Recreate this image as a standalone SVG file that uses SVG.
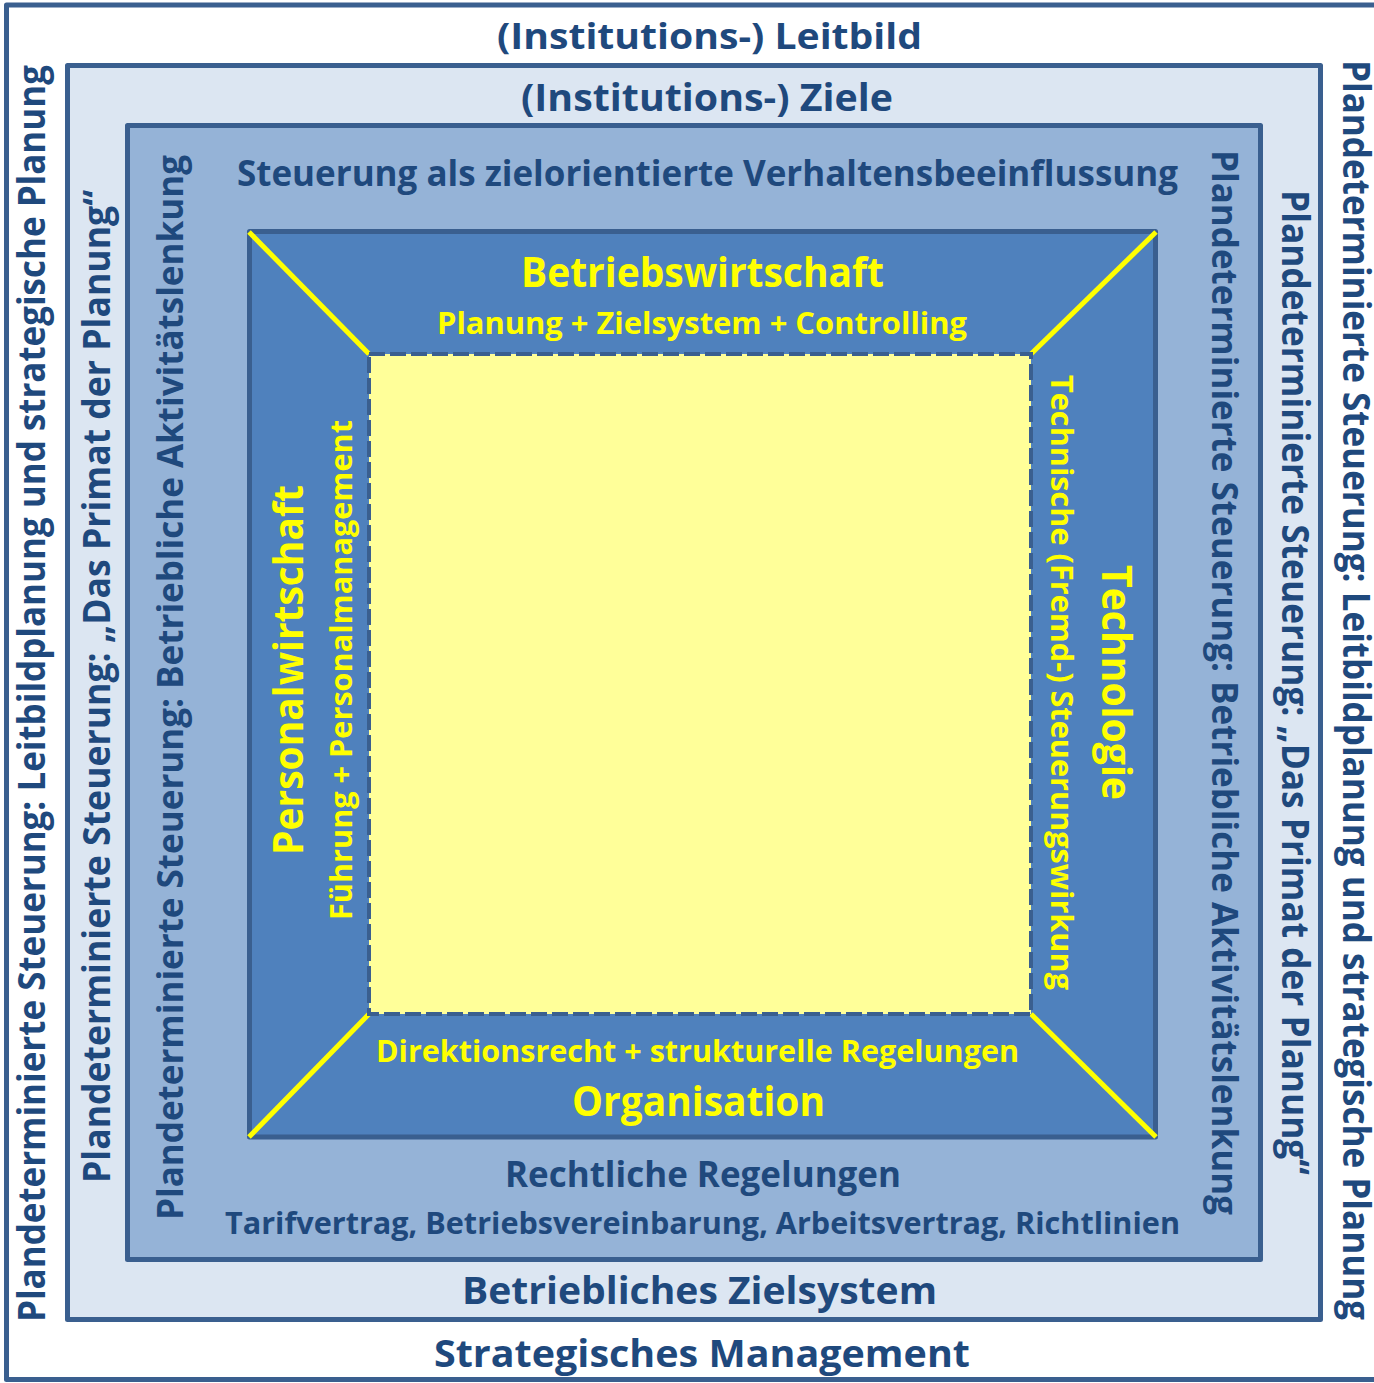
<svg xmlns="http://www.w3.org/2000/svg" width="1374" height="1383" viewBox="0 0 1374 1383">
<style>
.frame{stroke:#3A5F8F;stroke-width:5;stroke-linejoin:round}
.t{font-family:"Open Sans","Noto Sans","Liberation Sans",sans-serif;font-weight:bold;fill:#1F497D;text-anchor:middle}
.y{fill:#FFFF00}
.conn{stroke:#FFFF00;stroke-width:5;stroke-linecap:butt}
</style>
<rect width="1374" height="1383" fill="#FFFFFF"/>
<g id="level1">
<rect class="frame" x="6.5" y="5" width="1372" height="1374.5" fill="#FFFFFF"/>
<text class="t" x="709.5" y="49" font-size="36" textLength="425" lengthAdjust="spacingAndGlyphs">(Institutions-) Leitbild</text>
<text class="t" x="702" y="1367" font-size="37" textLength="536" lengthAdjust="spacingAndGlyphs">Strategisches Management</text>
<text class="t" font-size="38" textLength="1257" lengthAdjust="spacingAndGlyphs" transform="translate(45,693.5) rotate(-90)">Plandeterminierte Steuerung: Leitbildplanung und strategische Planung</text>
<text class="t" font-size="38" textLength="1260" lengthAdjust="spacingAndGlyphs" transform="translate(1343,690) rotate(90)">Plandeterminierte Steuerung: Leitbildplanung und strategische Planung</text>
</g>
<g id="level2">
<rect class="frame" x="67.5" y="65.5" width="1253" height="1254" fill="#DCE6F2"/>
<text class="t" x="707" y="111" font-size="37" textLength="372" lengthAdjust="spacingAndGlyphs">(Institutions-) Ziele</text>
<text class="t" x="699.5" y="1304" font-size="37" textLength="475" lengthAdjust="spacingAndGlyphs">Betriebliches Zielsystem</text>
<text class="t" font-size="38" textLength="993" lengthAdjust="spacingAndGlyphs" transform="translate(110,686.5) rotate(-90)">Plandeterminierte Steuerung: „Das Primat der Planung“</text>
<text class="t" font-size="38" textLength="985" lengthAdjust="spacingAndGlyphs" transform="translate(1282,682.5) rotate(90)">Plandeterminierte Steuerung: „Das Primat der Planung“</text>
</g>
<g id="level3">
<rect class="frame" x="127.5" y="125.5" width="1133" height="1134" fill="#95B3D7"/>
<text class="t" x="707.5" y="186" font-size="36" textLength="941" lengthAdjust="spacingAndGlyphs">Steuerung als zielorientierte Verhaltensbeeinflussung</text>
<text class="t" x="703" y="1187" font-size="36" textLength="396" lengthAdjust="spacingAndGlyphs">Rechtliche Regelungen</text>
<text class="t" x="702.5" y="1234" font-size="30" textLength="955" lengthAdjust="spacingAndGlyphs">Tarifvertrag, Betriebsvereinbarung, Arbeitsvertrag, Richtlinien</text>
<text class="t" font-size="36" textLength="1065" lengthAdjust="spacingAndGlyphs" transform="translate(183,687.5) rotate(-90)">Plandeterminierte Steuerung: Betriebliche Aktivitätslenkung</text>
<text class="t" font-size="36" textLength="1065" lengthAdjust="spacingAndGlyphs" transform="translate(1212,682.5) rotate(90)">Plandeterminierte Steuerung: Betriebliche Aktivitätslenkung</text>
</g>
<g id="level4">
<rect class="frame" x="249.5" y="231.5" width="906" height="905.5" fill="#4F81BD"/>
</g>
<g id="connectors">
<line class="conn" x1="249" y1="232" x2="369" y2="354"/>
<line class="conn" x1="1156" y1="232" x2="1031" y2="354"/>
<line class="conn" x1="249" y1="1137" x2="369" y2="1014"/>
<line class="conn" x1="1156" y1="1137" x2="1031" y2="1014"/>
</g>
<g id="core">
<rect x="369" y="354" width="662" height="660" fill="#FFFF99" stroke="#3A5F8F" stroke-width="4" stroke-dasharray="16 5"/>
</g>
<g id="betriebswirtschaft">
<text class="t y" x="702.5" y="287" font-size="41" textLength="363" lengthAdjust="spacingAndGlyphs">Betriebswirtschaft</text>
<text class="t y" x="702" y="334" font-size="31" textLength="530" lengthAdjust="spacingAndGlyphs">Planung + Zielsystem + Controlling</text>
</g>
<g id="organisation">
<text class="t y" x="697.5" y="1062" font-size="31" textLength="643" lengthAdjust="spacingAndGlyphs">Direktionsrecht + strukturelle Regelungen</text>
<text class="t y" x="698.5" y="1116" font-size="41" textLength="253" lengthAdjust="spacingAndGlyphs">Organisation</text>
</g>
<g id="personalwirtschaft">
<text class="t y" font-size="41" textLength="370" lengthAdjust="spacingAndGlyphs" transform="translate(303,670) rotate(-90)">Personalwirtschaft</text>
<text class="t y" font-size="30" textLength="500" lengthAdjust="spacingAndGlyphs" transform="translate(352,670) rotate(-90)">Führung + Personalmanagement</text>
</g>
<g id="technologie">
<text class="t y" font-size="41" textLength="235" lengthAdjust="spacingAndGlyphs" transform="translate(1102,682.5) rotate(90)">Technologie</text>
<text class="t y" font-size="30" textLength="615" lengthAdjust="spacingAndGlyphs" transform="translate(1051,682.5) rotate(90)">Technische (Fremd-) Steuerungswirkung</text>
</g>
</svg>
